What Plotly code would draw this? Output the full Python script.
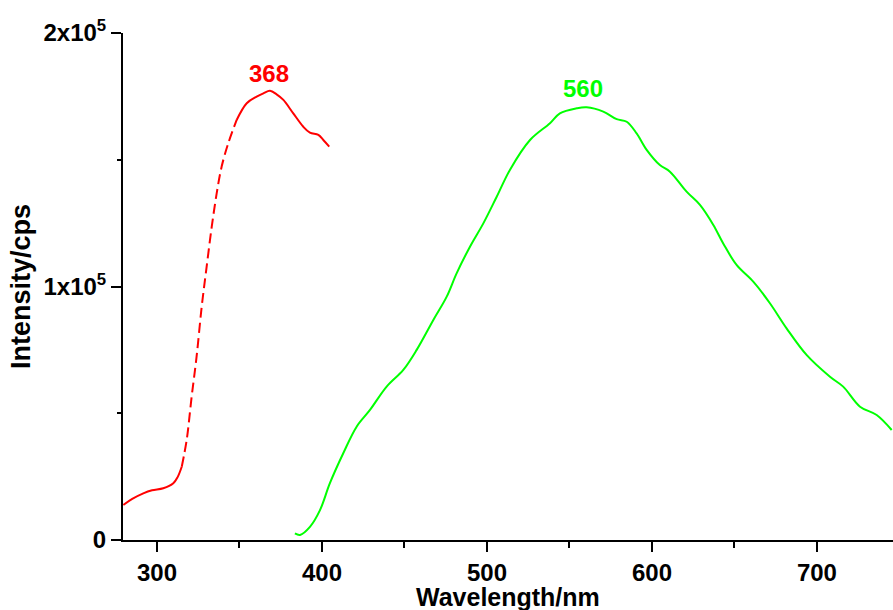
import numpy as np
import plotly.graph_objects as go

# Excitation spectrum (red, dashed)
ex_wl = [279.6, 285.0, 291.7, 297.0, 303.8, 309.9, 312.5, 315.0, 318.0, 321.0, 324.0, 327.1,
         330.1, 333.2, 336.2, 339.2, 343.2, 348.3, 354.4, 360.4, 364.5, 368.5, 372.5, 376.6,
         382.6, 388.7, 392.7, 397.8, 400.8, 404.4]
ex_val = [13.8, 16.2, 18.4, 19.6, 20.4, 22.4, 24.8, 28.9, 39.5, 56.5, 72.3, 92.0,
          107.8, 123.6, 136.8, 147.3, 156.5, 165.7, 172.3, 174.9, 176.2, 177.2, 175.8, 173.6,
          168.3, 163.0, 160.7, 159.8, 157.8, 155.2]

# Emission spectrum (green, solid)
em_wl = [383.6, 386.7, 392.7, 398.8, 404.8, 412.9, 421.0, 429.1, 439.2, 449.3, 457.4, 467.5,
         475.6, 481.6, 489.7, 497.8, 505.9, 513.9, 526.1, 538.2, 544.2, 554.4, 560.4, 570.5,
         578.6, 584.7, 590.7, 596.8, 604.8, 610.9, 621.0, 629.1, 637.2, 643.2, 651.3, 661.4,
         671.5, 681.6, 693.7, 707.9, 715.9, 726.1, 736.2, 745.3]
em_val = [2.6, 2.0, 5.2, 11.8, 22.4, 34.2, 44.7, 51.3, 60.5, 67.1, 75.0, 86.8,
          96.0, 105.2, 115.7, 124.9, 135.4, 146.0, 157.8, 164.4, 168.3, 170.3, 170.7, 169.0,
          166.0, 165.0, 160.4, 153.9, 147.9, 145.3, 137.4, 132.2, 124.3, 117.0, 108.5, 101.9,
          93.4, 83.5, 73.0, 64.4, 60.5, 52.6, 49.3, 43.4]

peak_labels = [("368", 368, 184.0, "#ff0000"), ("560", 558, 178.3, "#00ff00")]

y_tickvals = [0, 1e5, 2e5]
y_ticktext = ["0", "1x10<sup>5</sup>", "2x10<sup>5</sup>"]
x_tickvals = [300, 400, 500, 600, 700]
x_title = "Wavelength/nm"
y_title = "Intensity/cps"

ex_wl_a = np.array(ex_wl)
ex_val_a = np.array(ex_val) * 1000
em_val_a = np.array(em_val) * 1000

FONT = "Liberation Sans, Arial, sans-serif"

fig = go.Figure()
# excitation: solid in flat parts, dashed in steep part
low = ex_wl_a <= 315.0
mid = (ex_wl_a >= 315.0) & (ex_wl_a <= 348.3)
high = ex_wl_a >= 348.3
for mask, dash in [(low, "solid"), (mid, "10px,5px"), (high, "solid")]:
    fig.add_trace(go.Scatter(x=ex_wl_a[mask], y=ex_val_a[mask], mode="lines",
                             line=dict(color="#ff0000", width=2, dash=dash, shape="spline"),
                             showlegend=False, hoverinfo="skip"))
fig.add_trace(go.Scatter(x=em_wl, y=em_val_a, mode="lines",
                         line=dict(color="#00ff00", width=2, shape="spline"),
                         showlegend=False))

for txt, x, y, c in peak_labels:
    fig.add_annotation(x=x, y=y * 1000, text=txt, showarrow=False,
                       font=dict(family=FONT, size=24, color=c, weight="bold"))

# axis titles placed precisely
fig.add_annotation(xref="paper", yref="paper", x=0.5, y=-0.113, yanchor="middle",
                   text=x_title, showarrow=False,
                   font=dict(family=FONT, size=25, weight="bold", color="black"))
fig.add_annotation(xref="paper", yref="paper", x=-0.133, xanchor="center", y=0.5,
                   text=y_title, textangle=-90, showarrow=False,
                   font=dict(family=FONT, size=27, weight="bold", color="black"))

fig.update_layout(
    width=893, height=610,
    margin=dict(l=123, r=0, t=33, b=70),
    paper_bgcolor="white", plot_bgcolor="white",
    font=dict(family=FONT, color="black"),
)
fig.update_xaxes(
    range=[279.4, 746.1], showgrid=False, zeroline=False, automargin=False,
    showline=True, linecolor="black", linewidth=2,
    ticks="outside", ticklen=10, tickwidth=2, tickcolor="black",
    tickmode="array", tickvals=x_tickvals,
    tickfont=dict(family=FONT, size=24, weight="bold"),
    minor=dict(tickmode="array", tickvals=[350, 450, 550, 650], ticks="outside",
               ticklen=6, tickwidth=2, tickcolor="black", showgrid=False),
)
fig.update_yaxes(
    range=[0, 2e5], showgrid=False, zeroline=False, automargin=False,
    showline=True, linecolor="black", linewidth=2,
    ticks="outside", ticklen=10, tickwidth=2, tickcolor="black",
    tickmode="array", tickvals=y_tickvals, ticktext=y_ticktext,
    tickfont=dict(family=FONT, size=24, weight="bold"),
    minor=dict(tickmode="array", tickvals=[5e4, 1.5e5], ticks="outside",
               ticklen=4, tickwidth=2, tickcolor="black", showgrid=False),
)

fig.write_html("out.html", config={"displayModeBar": False},
               post_script="document.body.style.margin='0';document.body.style.overflow='hidden';")
